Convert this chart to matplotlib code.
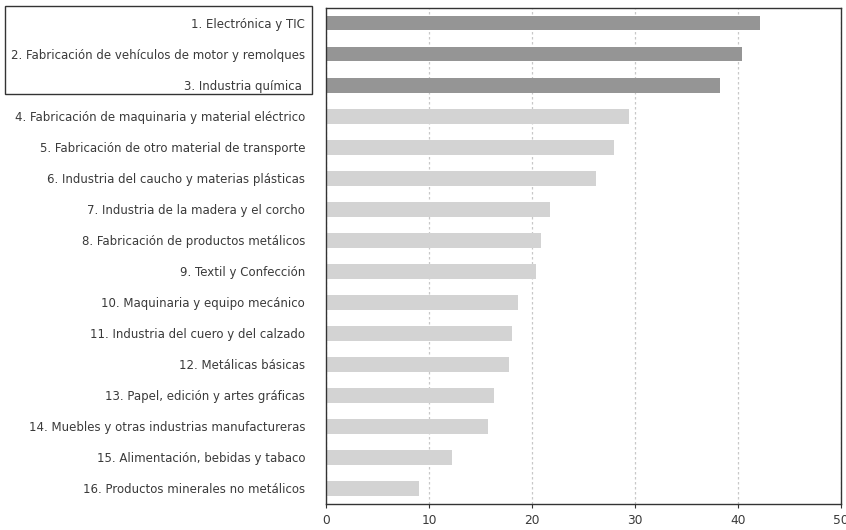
import numpy as np
import matplotlib
matplotlib.use("Agg")
import matplotlib.pyplot as plt
from matplotlib.patches import Rectangle

# sectors, ordered top to bottom
labels = [
    "1. Electrónica y TIC",
    "2. Fabricación de vehículos de motor y remolques",
    "3. Industria química ",
    "4. Fabricación de maquinaria y material eléctrico",
    "5. Fabricación de otro material de transporte",
    "6. Industria del caucho y materias plásticas",
    "7. Industria de la madera y el corcho",
    "8. Fabricación de productos metálicos",
    "9. Textil y Confección",
    "10. Maquinaria y equipo mecánico",
    "11. Industria del cuero y del calzado",
    "12. Metálicas básicas",
    "13. Papel, edición y artes gráficas",
    "14. Muebles y otras industrias manufactureras",
    "15. Alimentación, bebidas y tabaco",
    "16. Productos minerales no metálicos",
]
values = [42.1, 40.4, 38.3, 29.4, 28.0, 26.2, 21.7, 20.9, 20.4,
          18.6, 18.1, 17.8, 16.3, 15.7, 12.2, 9.0]
n_top = 3
xticks = [0, 10, 20, 30, 40, 50]

dark = "#959595"
light = "#d3d3d3"
txt = "#3a3a3a"

plt.rcParams["font.family"] = ["DejaVu Sans"]

fig = plt.figure(figsize=(8.46, 5.30), dpi=100)
ax = fig.add_axes([326 / 846, 1 - 504 / 530, (841 - 326) / 846, (504 - 7.5) / 530])

y = np.arange(len(labels))
colors = [dark if i < n_top else light for i in range(len(labels))]
ax.barh(y, values, height=0.48, color=colors, zorder=2)

ax.set_xlim(0, 50)
ax.set_ylim(len(labels) - 0.5, -0.5)
ax.set_xticks(xticks)
ax.set_yticks(y)
ax.set_yticklabels(labels, fontsize=8.5, color=txt)
ax.tick_params(axis="y", length=0, pad=15)
ax.tick_params(axis="x", length=3, direction="out", labelsize=8.8,
               labelcolor=txt, color="#333333", pad=4)

ax.xaxis.grid(True, linestyle=(0, (2, 2)), color="#c8c8c8", linewidth=0.9, zorder=0)
for s in ax.spines.values():
    s.set_color("#333333")
    s.set_linewidth(1.0)

# box around the top three sectors
fig.patches.append(Rectangle((5 / 846, 1 - 94 / 530), (312 - 5) / 846, (94 - 6) / 530,
                             transform=fig.transFigure, fill=False,
                             edgecolor="#333333", linewidth=1.0))

fig.savefig("out.png", dpi=100)
